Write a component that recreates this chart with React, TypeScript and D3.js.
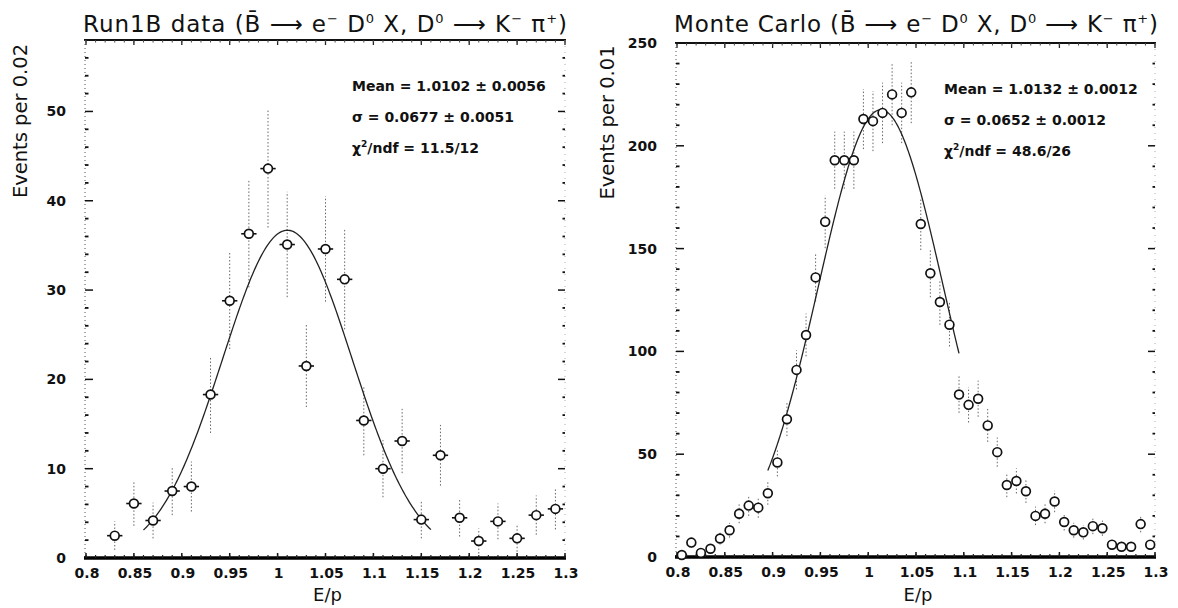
import React from 'react';
import * as d3 from 'd3';

// ---------- data ----------
const leftBins = [0.83, 0.85, 0.87, 0.89, 0.91, 0.93, 0.95, 0.97, 0.99, 1.01, 1.03, 1.05, 1.07, 1.09, 1.11, 1.13, 1.15, 1.17, 1.19, 1.21, 1.23, 1.25, 1.27, 1.29];
const leftCounts = [2.5, 6.1, 4.2, 7.5, 8.0, 18.3, 28.8, 36.3, 43.6, 35.1, 21.5, 34.6, 31.2, 15.4, 10.0, 13.1, 4.3, 11.5, 4.5, 1.9, 4.1, 2.2, 4.8, 5.5];
const leftErrors = [1.6, 2.5, 2.0, 2.7, 2.8, 4.3, 5.4, 6.0, 6.6, 5.9, 4.6, 5.9, 5.6, 3.9, 3.2, 3.6, 2.1, 3.4, 2.1, 1.4, 2.0, 1.5, 2.2, 2.3];

const rightBins = [0.805, 0.815, 0.825, 0.835, 0.845, 0.855, 0.865, 0.875, 0.885, 0.895, 0.905, 0.915, 0.925, 0.935, 0.945, 0.955, 0.965, 0.975, 0.985, 0.995, 1.005, 1.015, 1.025, 1.035, 1.045, 1.055, 1.065, 1.075, 1.085, 1.095, 1.105, 1.115, 1.125, 1.135, 1.145, 1.155, 1.165, 1.175, 1.185, 1.195, 1.205, 1.215, 1.225, 1.235, 1.245, 1.255, 1.265, 1.275, 1.285, 1.295];
const rightCounts = [1, 7, 2, 4, 9, 13, 21, 25, 24, 31, 46, 67, 91, 108, 136, 163, 193, 193, 193, 213, 212, 216, 225, 216, 226, 162, 138, 124, 113, 79, 74, 77, 64, 51, 35, 37, 32, 20, 21, 27, 17, 13, 12, 15, 14, 6, 5, 5, 16, 6];
const rightErrors = [1.0, 2.6, 1.4, 2.0, 3.0, 3.6, 4.6, 5.0, 4.9, 5.6, 6.8, 8.2, 9.5, 10.4, 11.7, 12.8, 13.9, 13.9, 13.9, 14.6, 14.6, 14.7, 15.0, 14.7, 15.0, 12.7, 11.7, 11.1, 10.6, 8.9, 8.6, 8.8, 8.0, 7.1, 5.9, 6.1, 5.7, 4.5, 4.6, 5.2, 4.1, 3.6, 3.5, 3.9, 3.7, 2.4, 2.2, 2.2, 4.0, 2.4];

const xTickValues = [0.8, 0.85, 0.9, 0.95, 1.0, 1.05, 1.1, 1.15, 1.2, 1.25, 1.3];
const xTickLabels = ['0.8', '0.85', '0.9', '0.95', '1', '1.05', '1.1', '1.15', '1.2', '1.25', '1.3'];
const leftYTicks = [0, 10, 20, 30, 40, 50];
const rightYTicks = [0, 50, 100, 150, 200, 250];

const leftStats = ['Mean = 1.0102 \u00b1 0.0056', '\u03c3 = 0.0677 \u00b1 0.0051', '11.5/12'];
const rightStats = ['Mean = 1.0132 \u00b1 0.0012', '\u03c3 = 0.0652 \u00b1 0.0012', '48.6/26'];

// fit parameters (Gaussian) as printed on the plot
const leftFitMean = 1.0102, leftFitSigma = 0.0677, leftFitPeak = 36.7, leftFitRange = [0.86, 1.16];
const rightFitMean = 1.0132, rightFitSigma = 0.0652, rightFitPeak = 217.5, rightFitRange = [0.895, 1.095];

const FONT = "'DejaVu Sans', 'Liberation Sans', sans-serif";

type PanelProps = {
  x0: number; x1: number; yTop: number; yBot: number; yMax: number;
  bins: number[]; counts: number[]; errors: number[]; halfBin: number;
  yTicks: number[]; yMinorStep: number;
  fitMean: number; fitSigma: number; fitPeak: number; fitRange: number[];
  titlePrefix: string; titleWidth: number; titleY: number;
  yLabel: string; yLabelX: number;
  stats: string[]; statsX: number;
};

function Panel(p: PanelProps) {
  const x = d3.scaleLinear().domain([0.8, 1.3]).range([p.x0, p.x1]);
  const y = d3.scaleLinear().domain([0, p.yMax]).range([p.yBot, p.yTop]);

  const minorX = d3.range(0.8, 1.3001, 0.01);
  const minorY = d3.range(0, p.yMax, p.yMinorStep).filter(v => !p.yTicks.includes(Math.round(v)));

  const fitXs = d3.range(p.fitRange[0], p.fitRange[1] + 1e-9, (p.fitRange[1] - p.fitRange[0]) / 200);
  const fitLine = d3.line<number>()
    .x(v => x(v))
    .y(v => y(p.fitPeak * Math.exp(-0.5 * Math.pow((v - p.fitMean) / p.fitSigma, 2))))
    .curve(d3.curveLinear);

  const supSize = 13;
  return (
    <g>
      {/* title */}
      <text x={p.x0 - 3} y={p.titleY} fontFamily={FONT} fontSize={23} fill="#111"
        textLength={p.titleWidth} lengthAdjust="spacing">
        {p.titlePrefix + ' (B\u0304 \u27f6  e'}
        <tspan dy={-9} fontSize={supSize}>{'\u2212'}</tspan>
        <tspan dy={9}>{' D'}</tspan>
        <tspan dy={-9} fontSize={supSize}>0</tspan>
        <tspan dy={9}>{' X, D'}</tspan>
        <tspan dy={-9} fontSize={supSize}>0</tspan>
        <tspan dy={9}>{' \u27f6 K'}</tspan>
        <tspan dy={-9} fontSize={supSize}>{'\u2212'}</tspan>
        <tspan dy={9}>{' \u03c0'}</tspan>
        <tspan dy={-9} fontSize={supSize}>+</tspan>
        <tspan dy={9}>)</tspan>
      </text>

      {/* y label */}
      <text transform={`translate(${p.yLabelX},${(p.yTop + 200) / 2 + 1}) rotate(-90)`} textAnchor="middle"
        fontFamily={FONT} fontSize={19.5} fill="#111">{p.yLabel}</text>

      {/* x label */}
      <text x={(p.x0 + p.x1) / 2 + 2} y={601} textAnchor="middle" fontFamily={FONT} fontSize={18} fill="#111">E/p</text>

      {/* frame: top axis */}
      <line x1={p.x0 - 2} x2={p.x1 + 1} y1={p.yTop} y2={p.yTop} stroke="#111" strokeWidth={2} />
      {xTickValues.map((v, i) => (
        <line key={'tt' + i} x1={x(v)} x2={x(v)} y1={p.yTop} y2={p.yTop + 5} stroke="#222" strokeWidth={1.3} />
      ))}
      {minorX.map((v, i) => (
        <line key={'tm' + i} x1={x(v)} x2={x(v)} y1={p.yTop} y2={p.yTop + 2.5} stroke="#444" strokeWidth={1} />
      ))}

      {/* left axis (dotted) */}
      <line x1={p.x0 - 1} x2={p.x0 - 1} y1={p.yTop} y2={p.yBot} stroke="#555" strokeWidth={1} strokeDasharray="1,3" />
      {p.yTicks.map((v, i) => (
        <g key={'yl' + i}>
          <line x1={p.x0 - 1} x2={p.x0 + 7} y1={y(v)} y2={y(v)} stroke="#111" strokeWidth={1.5} />
          <text x={p.x0 - 20} y={y(v)} dy="0.36em" textAnchor="end" fontFamily={FONT} fontWeight="bold" fontSize={14} fill="#111">{v}</text>
        </g>
      ))}
      {minorY.map((v, i) => (
        <line key={'ym' + i} x1={p.x0 - 1} x2={p.x0 + 2.5} y1={y(v)} y2={y(v)} stroke="#111" strokeWidth={1.8} />
      ))}

      {/* right axis ticks */}
      <line x1={p.x1} x2={p.x1} y1={p.yTop} y2={p.yBot} stroke="#999" strokeWidth={0.8} strokeDasharray="1,5" />
      {p.yTicks.map((v, i) => (
        <line key={'yr' + i} x1={p.x1 - 7} x2={p.x1} y1={y(v)} y2={y(v)} stroke="#111" strokeWidth={1.5} />
      ))}
      {minorY.map((v, i) => (
        <line key={'yrm' + i} x1={p.x1 - 2.5} x2={p.x1} y1={y(v)} y2={y(v)} stroke="#111" strokeWidth={1.8} />
      ))}

      {/* bottom axis */}
      <line x1={p.x0 - 2} x2={p.x1 + 1} y1={p.yBot} y2={p.yBot} stroke="#000" strokeWidth={3.5} />
      {xTickValues.map((v, i) => (
        <g key={'bx' + i}>
          <line x1={x(v)} x2={x(v)} y1={p.yBot} y2={p.yBot - 5} stroke="#111" strokeWidth={1.5} />
          <text x={x(v) + 1} y={p.yBot + 20} textAnchor="middle" fontFamily={FONT} fontWeight="bold" fontSize={14} fill="#111">{xTickLabels[i]}</text>
        </g>
      ))}
      {minorX.map((v, i) => (
        <line key={'bm' + i} x1={x(v)} x2={x(v)} y1={p.yBot} y2={p.yBot - 3} stroke="#222" strokeWidth={1.2} />
      ))}

      {/* stats */}
      <text x={p.statsX} y={p.yTop + 51} fontFamily={FONT} fontWeight="bold" fontSize={14} fill="#111">{p.stats[0]}</text>
      <text x={p.statsX} y={p.yTop + 82} fontFamily={FONT} fontWeight="bold" fontSize={14} fill="#111">{p.stats[1]}</text>
      <text x={p.statsX} y={p.yTop + 113} fontFamily={FONT} fontWeight="bold" fontSize={14} fill="#111">
        {'\u03c7'}<tspan dy={-6} fontSize={9}>2</tspan><tspan dy={6}>{'/ndf = ' + p.stats[2]}</tspan>
      </text>

      {/* error bars */}
      {p.bins.map((b, i) => (
        <line key={'ev' + i} x1={x(b)} x2={x(b)} y1={y(Math.max(0, p.counts[i] - p.errors[i]))} y2={y(p.counts[i] + p.errors[i])}
          stroke="#666" strokeWidth={1} strokeDasharray="1.5,2" />
      ))}

      {/* fit */}
      <path d={fitLine(fitXs) || ''} fill="none" stroke="#222" strokeWidth={1.3} />

      {/* points */}
      {p.bins.map((b, i) => (
        <g key={'pt' + i}>
          <line x1={x(b - p.halfBin)} x2={x(b + p.halfBin)} y1={y(p.counts[i])} y2={y(p.counts[i])} stroke="#111" strokeWidth={1.6} />
          <circle cx={x(b)} cy={y(p.counts[i])} r={4.4} fill="#fff" stroke="#111" strokeWidth={1.7} />
        </g>
      ))}
    </g>
  );
}

export default function App() {
  return (
    <svg width={1178} height={608} viewBox="0 0 1178 608"
      style={{ position: 'absolute', left: 0, top: 0, background: '#fff' }}>
      <rect x={0} y={0} width={1178} height={608} fill="#fff" />
      <Panel x0={86} x1={565} yTop={40} yBot={558} yMax={58}
        bins={leftBins} counts={leftCounts} errors={leftErrors} halfBin={0.008}
        yTicks={leftYTicks} yMinorStep={2}
        fitMean={leftFitMean} fitSigma={leftFitSigma} fitPeak={leftFitPeak} fitRange={leftFitRange}
        titlePrefix="Run1B data" titleWidth={484} titleY={32}
        yLabel="Events per 0.02" yLabelX={27}
        stats={leftStats} statsX={352} />
      <Panel x0={677} x1={1155} yTop={43} yBot={557} yMax={250}
        bins={rightBins} counts={rightCounts} errors={rightErrors} halfBin={0.004}
        yTicks={rightYTicks} yMinorStep={10}
        fitMean={rightFitMean} fitSigma={rightFitSigma} fitPeak={rightFitPeak} fitRange={rightFitRange}
        titlePrefix="Monte Carlo" titleWidth={484} titleY={32}
        yLabel="Events per 0.01" yLabelX={614}
        stats={rightStats} statsX={944} />
    </svg>
  );
}
